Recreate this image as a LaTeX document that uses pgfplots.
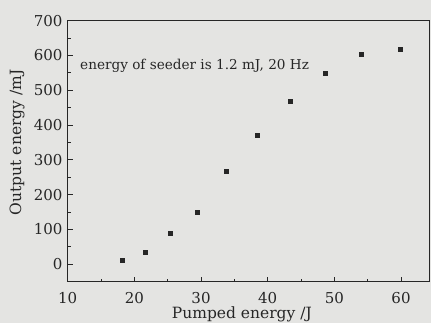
\documentclass[border=0pt]{standalone}
\usepackage{pgfplots}
\pgfplotsset{compat=1.18}
\usepackage{fontspec}
\setmainfont{DejaVu Serif}
\definecolor{bg}{HTML}{E4E4E2}
\definecolor{ink}{HTML}{262626}
\begin{document}
\begin{tikzpicture}
\fontsize{15pt}{18pt}\selectfont
\fill[bg] (-67.7pt,-41.3pt) rectangle (363.3pt,281.7pt);
\useasboundingbox (-67.7pt,-41.3pt) rectangle (363.3pt,281.7pt);
\begin{axis}[
  at={(0,0)}, anchor=south west,
  scale only axis, width=361.3pt, height=261pt,
  xmin=10, xmax=64.2, ymin=-50, ymax=700,
  xtick={10,20,...,60}, ytick={0,100,...,700},
  minor tick num=1,
  tick align=inside, xtick pos=bottom, ytick pos=left,
  major tick length=5pt, minor tick length=3pt,
  axis line style={line width=1pt, ink},
  every tick/.style={ink, line width=0.8pt},
  /pgf/number format/assume math mode=true,
  tick label style={font=\fontsize{15pt}{18pt}\selectfont, text=ink},
  xticklabel style={yshift=-5pt},
  label style={font=\fontsize{15.5pt}{18pt}\selectfont, text=ink},
  xlabel={Pumped energy /J},
  ylabel={Output energy /mJ},
  xlabel style={at={(axis description cs:0.482,0)}, anchor=base, yshift=-37pt},
  ylabel style={at={(axis description cs:0,0.534)}, anchor=center, yshift=50.7pt},
]
\addplot[only marks, mark=square*, mark size=2pt, color=ink] coordinates {
  (18.2,12) (21.65,35) (25.4,89) (29.4,149) (33.8,267)
  (38.4,370) (43.4,468) (48.6,549) (54.1,604) (59.9,619)
};
\node[anchor=west, text=ink, inner sep=0pt, font=\fontsize{13.6pt}{16pt}\selectfont] at (axis cs:11.85,571) {energy of seeder is 1.2 mJ, 20 Hz};
\end{axis}
\end{tikzpicture}
\end{document}
